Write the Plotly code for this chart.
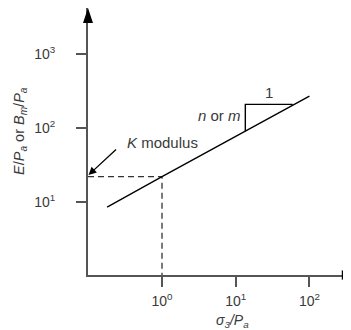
import plotly.graph_objects as go

# Data
line_x = [0.18, 1.0, 100.0]
line_y = [8.5, 22.0, 270.0]

dash_x = [0.099, 1.0, 1.0]
dash_y = [22.0, 22.0, 1.03]

tri_x = [13.5, 13.5, 59.3]
tri_y = [91.0, 209.0, 209.0]

xtick_vals = [1, 10, 100]
xtick_text = ["10<sup>0</sup>", "10<sup>1</sup>", "10<sup>2</sup>"]
ytick_vals = [10, 100, 1000]
ytick_text = ["10<sup>1</sup>", "10<sup>2</sup>", "10<sup>3</sup>"]

AX = "#555555"
TXT = "#3a3a3a"
FONT = "Liberation Sans, Arial, sans-serif"

fig = go.Figure()
fig.add_trace(go.Scatter(x=dash_x, y=dash_y, mode="lines",
                         line=dict(color="#333333", width=1.3, dash="6px,4px"),
                         hoverinfo="skip", showlegend=False, cliponaxis=False))
fig.add_trace(go.Scatter(x=line_x, y=line_y, mode="lines",
                         line=dict(color="black", width=1.4),
                         hoverinfo="skip", showlegend=False))
fig.add_trace(go.Scatter(x=tri_x, y=tri_y, mode="lines",
                         line=dict(color="black", width=1.4),
                         hoverinfo="skip", showlegend=False))

# page body has an 8px margin, so the figure is 8px smaller than the window
fig.update_layout(
    width=343, height=322,
    margin=dict(l=80, r=0, t=0, b=55),
    paper_bgcolor="white", plot_bgcolor="white",
    font=dict(family=FONT, size=14, color=TXT),
    showlegend=False,
)
fig.update_xaxes(type="log", range=[-1.004, 2.564], showgrid=False, zeroline=False,
                 showline=True, linecolor=AX, linewidth=2,
                 ticks="outside", ticklen=10, tickwidth=1.5, tickcolor=AX,
                 tickvals=xtick_vals, ticktext=xtick_text, ticklabelstandoff=2,
                 tickfont=dict(size=14, color=TXT))
fig.update_yaxes(type="log", range=[0.0135, 3.622], showgrid=False, zeroline=False,
                 showline=True, linecolor=AX, linewidth=2,
                 ticks="outside", ticklen=10, tickwidth=1.5, tickcolor=AX,
                 tickvals=ytick_vals, ticktext=ytick_text, ticklabelstandoff=18,
                 tickfont=dict(size=14, color=TXT))

# Arrowheads on axes (paper coords)
fig.add_shape(type="path", xref="paper", yref="paper",
              path="M -0.019,0.944 L 0.0,1.0 L 0.019,0.944 Z",
              fillcolor="black", line=dict(color="black", width=0))
fig.add_shape(type="path", xref="paper", yref="paper",
              path="M 0.965,0.0187 L 1.0,0.0 L 0.965,-0.0187 Z",
              fillcolor="black", line=dict(color="black", width=0))

# Axis titles
fig.add_annotation(xref="paper", yref="paper", x=0.548, y=-0.172,
                   text="<i>σ<sub>3</sub>/P<sub>a</sub></i>", showarrow=False,
                   font=dict(size=14, color=TXT), xanchor="center", yanchor="middle")
fig.add_annotation(xref="paper", yref="paper", x=-0.259, y=0.539,
                   text="<i>E</i>/<i>P<sub>a</sub></i> or <i>B<sub>m</sub></i>/<i>P<sub>a</sub></i>",
                   showarrow=False, textangle=-90,
                   font=dict(size=14.5, color=TXT), xanchor="center", yanchor="middle")

# Labels
fig.add_annotation(xref="paper", yref="paper", x=0.141, y=0.498,
                   text="<i>K</i> modulus", showarrow=False,
                   font=dict(size=15, color=TXT), xanchor="left", yanchor="middle")
fig.add_annotation(xref="paper", yref="paper", x=0.002, y=0.3745, text="",
                   showarrow=True, arrowhead=2, arrowsize=1.2, arrowwidth=1.3,
                   arrowcolor="black", ax=29, ay=-27, standoff=0)
fig.add_annotation(xref="paper", yref="paper", x=0.588, y=0.599,
                   text="<i>n</i> or <i>m</i>", showarrow=False,
                   font=dict(size=15, color=TXT), xanchor="right", yanchor="middle")
fig.add_annotation(xref="paper", yref="paper", x=0.688, y=0.685,
                   text="1", showarrow=False,
                   font=dict(size=15, color=TXT), xanchor="center", yanchor="middle")

fig.write_html("out.html")
